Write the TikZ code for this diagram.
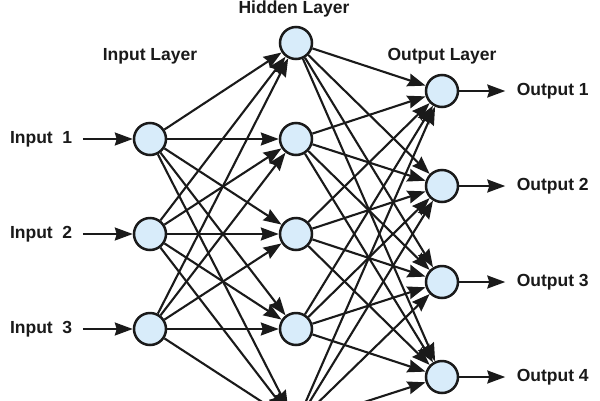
\documentclass[tikz,border=0pt]{standalone}
\usepackage{fontspec}
\setmainfont{Liberation Sans}
\usetikzlibrary{arrows.meta,positioning}
\definecolor{neuronfill}{HTML}{D8ECFA}
\definecolor{inkdark}{HTML}{1A1A1A}

\begin{document}
\begin{tikzpicture}[x=1pt, y=-1pt,
        neuron/.style={circle, draw=inkdark, line width=2.5pt, fill=neuronfill,
          minimum size=32pt, inner sep=0pt},
        conn/.style={-{Stealth[length=18pt, width=13pt, inset=2pt]}, line width=2.1pt, inkdark},
        lbl/.style={font=\bfseries\fontsize{17.5}{20}\selectfont, text=inkdark}]
        \clip (0,0) rectangle (600,400);
        \fill[white] (0,0) rectangle (600,400);
        \foreach \r/\y in {1/139, 2/234, 3/329}
          \node[neuron] (in-\r) at (150,\y) {};
        \foreach \r/\y in {1/43, 2/139, 3/234, 4/329, 5/424}
          \node[neuron] (hid-\r) at (296,\y) {};
        \foreach \r/\y in {1/91, 2/186, 3/282, 4/377}
          \node[neuron] (out-\r) at (442,\y) {};
        \node[lbl, anchor=base] (lay-in) at (150,60) {Input Layer};
        \node[lbl, anchor=base] (lay-hid) at (294,13) {Hidden Layer};
        \node[lbl, anchor=base] (lay-out) at (442,60) {Output Layer};
        \foreach \r in {1, 2, 3} {
          \node[lbl, left=57pt of in-\r] (src-\r) {Input~~\r};
          \draw[conn, shorten <=7pt] (src-\r) -- (in-\r);
        };
        \foreach \r in {1, 2, 3, 4} {
          \node[lbl, right=54pt of out-\r] (dst-\r) {Output \r};
          \draw[conn, shorten >=8pt] (out-\r) -- (dst-\r);
        };
        \foreach \i in {1, 2, 3} {
          \foreach \j in {1, 2, 3, 4, 5} {
            \draw[conn] (in-\i) -- (hid-\j);
          };
        };
        \foreach \i in {1, 2, 3, 4, 5} {
          \foreach \j in {1, 2, 3, 4} {
            \draw[conn] (hid-\i) -- (out-\j);
          };
        };
      \end{tikzpicture}
\end{document}
